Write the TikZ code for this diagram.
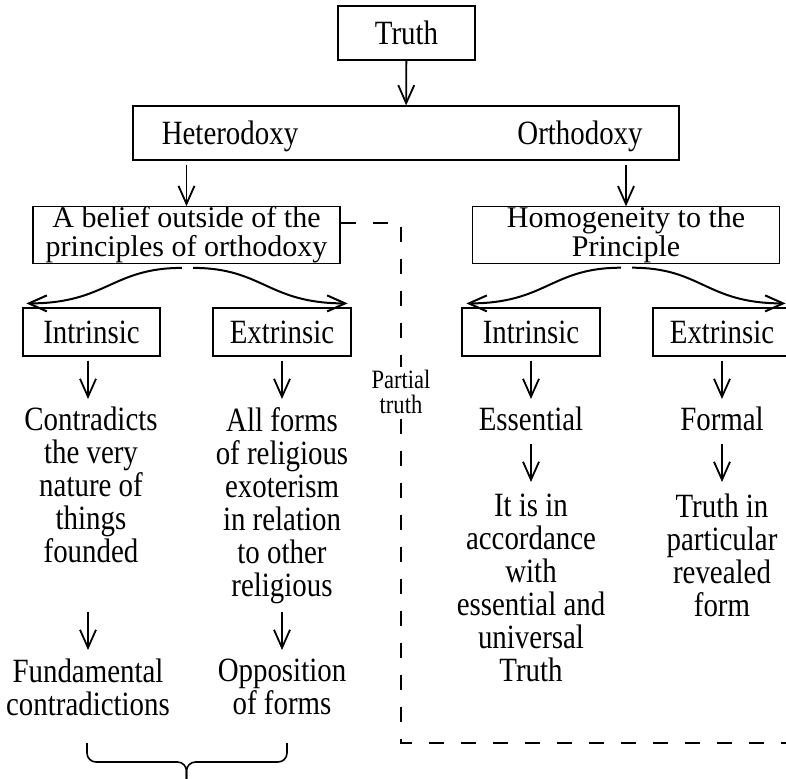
\documentclass[tikz,border=0pt]{standalone}
\usepackage{fontspec}
\setmainfont{Liberation Serif}[FakeStretch=0.85]
\newfontfamily\boxfont{Liberation Serif}
\usetikzlibrary{arrows.meta,positioning,calc}

\begin{document}
\begin{tikzpicture}[
  x=1pt, y=-1pt,
  font=\fontsize{34}{33}\selectfont,
  box/.style={draw, line width=1.2pt, inner sep=0pt, minimum width=138pt, minimum height=48pt, text height=23pt, text depth=0pt},
  hdr/.style={inner sep=0pt, text height=23pt, text depth=0pt},
  bigbox/.style={draw, line width=1.2pt, inner sep=0pt, minimum width=307pt, minimum height=56pt, align=center, font=\boxfont\fontsize{30}{29}\selectfont},
  txt/.style={align=center, inner sep=0pt, anchor=north},
  ar/.style={-{Straight Barb[length=18pt,width=16pt]}, line width=1.8pt, shorten <=4pt},
  fork/.style={-{Straight Barb[length=18pt,width=16pt]}, line width=2pt},
  part/.style={dash pattern=on 15pt off 17pt, line width=1.6pt},
  brace/.style={line width=1.6pt, rounded corners=9pt},
]
\useasboundingbox (0,0) rectangle (786,778);

% top of the tree
\node[box, minimum width=137pt, minimum height=54pt] (truth) at (406.5,33) {Truth};
\node[box, minimum width=546pt, minimum height=54pt] (top) at (406,133) {};
\node[hdr] (het) at (230,133) {Heterodoxy};
\node[hdr] (orth) at (580,133) {Orthodoxy};
\node[bigbox] (belief) at (186.5,235) {A belief outside of the\\principles of orthodoxy};
\node[bigbox] (homog) at (626,235) {Homogeneity to the\\Principle};

% second level
\node[box, minimum width=137pt] (intL) at (91.5,332) {Intrinsic};
\node[box] (extL) at (282,332) {Extrinsic};
\node[box] (intR) at (531,332) {Intrinsic};
\node[box] (extR) at (722,332) {Extrinsic};

% texts under the boxes
\node[txt] (contra) at (91,407) {Contradicts\\the very\\nature of\\things\\founded};
\node[txt] (allf) at (282,407) {All forms\\of religious\\exoterism\\in relation\\to other\\religious};
\node[txt] (ess) at (531,407) {Essential};
\node[txt] (formal) at (722,407) {Formal};
\node[txt] (itis) at (531,494) {It is in\\accordance\\with\\essential and\\universal\\Truth};
\node[txt] (trin) at (722,494) {Truth in\\particular\\revealed\\form};
\node[txt] (fund) at (88,659) {Fundamental\\contradictions};
\node[txt] (opp) at (282,659) {Opposition\\of forms};

\draw[ar, shorten <=0pt] (truth) -- (top);
\draw[ar] (belief.north |- top.south) -- (belief);
\draw[ar] (homog.north |- top.south) -- (homog);

\draw[fork] ([shift={(-4.5,4)}]belief.south) .. controls +(-70,0) and +(80,0) .. ([shift={(4,-4)}]intL.north west);
\draw[fork] ([shift={(6.5,4)}]belief.south) .. controls +(70,0) and +(-80,0) .. ([shift={(-4,-4)}]extL.north east);
\draw[fork] ([shift={(-5,4)}]homog.south) .. controls +(-70,0) and +(80,0) .. ([shift={(5,-4)}]intR.north west);
\draw[fork] ([shift={(6,4)}]homog.south) .. controls +(70,0) and +(-80,0) .. ([shift={(-6,-4)}]extR.north east);

\draw[ar, shorten >=8pt] (intL.south -| fund) -- (contra.north -| fund);
\draw[ar, shorten >=8pt] (extL) -- (allf);
\draw[ar, shorten >=8pt] (intR) -- (ess);
\draw[ar, shorten >=8pt] (extR) -- (formal);
\draw[ar, shorten <=13pt, shorten >=12pt] (ess) -- (itis);
\draw[ar, shorten <=13pt, shorten >=12pt] (formal) -- (trin);
\draw[ar, shorten <=8pt, shorten >=9pt] (fund.north |- allf.south) -- (fund.north);
\draw[ar, shorten <=8pt, shorten >=9pt] (allf) -- (opp);

% partial truth
\coordinate (dcorner) at (401,743);
\coordinate (dend) at (790,743);
\draw[part] ([yshift=12pt]belief.east) -| (dcorner) -- (dend);
\node[fill=white, inner sep=3pt, align=center, font=\fontsize{26.5}{25}\selectfont] (ptruth) at (401,392) {Partial\\truth};

% brace
\coordinate (bl) at (87,743);
\coordinate (br) at (287,743);
\coordinate (bm) at (186.5,762);
\coordinate (bt) at (186.5,790);
\draw[brace] (bl) |- (bm) -- (bt);
\draw[brace] (br) |- (bm) -- (bt);
\end{tikzpicture}
\end{document}
